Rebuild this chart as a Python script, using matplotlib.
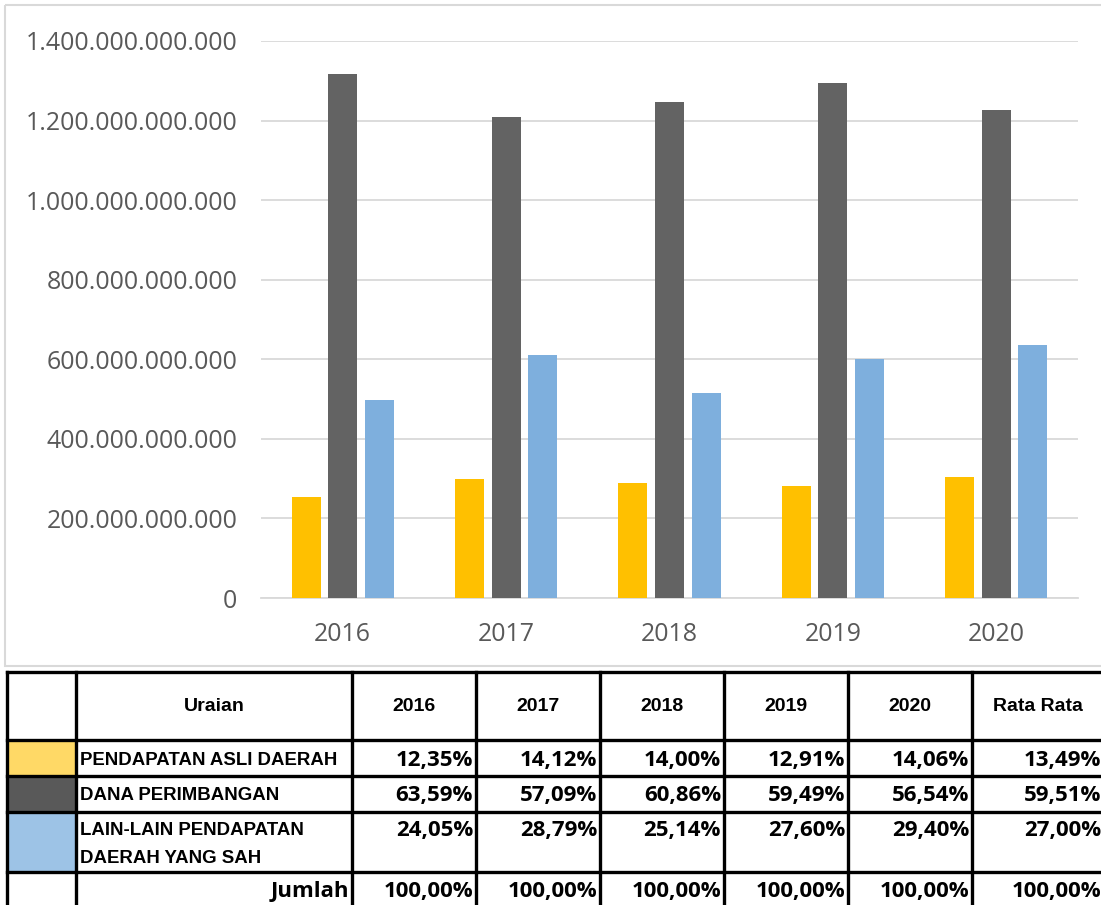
import numpy as np
import matplotlib.pyplot as plt
from matplotlib import font_manager
from matplotlib.patches import Rectangle

# data
years = ["2016", "2017", "2018", "2019", "2020"]
series = ["PENDAPATAN ASLI DAERAH", "DANA PERIMBANGAN", "LAIN-LAIN PENDAPATAN\nDAERAH YANG SAH"]
pad_vals = [253e9, 299e9, 289e9, 281e9, 304e9]
dana_vals = [1317e9, 1209e9, 1247e9, 1294e9, 1226e9]
lain_vals = [498e9, 611e9, 515e9, 601e9, 636e9]
bar_colors = ["#FFC000", "#636363", "#7EAFDD"]
swatch_colors = ["#FFD966", "#595959", "#9DC3E6"]

header = ["", "Uraian", "2016", "2017", "2018", "2019", "2020", "Rata Rata"]
pct_rows = [
    ["12,35%", "14,12%", "14,00%", "12,91%", "14,06%", "13,49%"],
    ["63,59%", "57,09%", "60,86%", "59,49%", "56,54%", "59,51%"],
    ["24,05%", "28,79%", "25,14%", "27,60%", "29,40%", "27,00%"],
]
total_row = ["100,00%"] * 6

W, H = 1101, 905
fig = plt.figure(figsize=(W / 100, H / 100), dpi=100)

# ---- bar chart ----
ax = fig.add_axes([261 / W, 1 - 598 / H, (1078 - 261) / W, (598 - 41) / H])
x = np.arange(len(years))
bw, off = 0.178, 0.224
for i, vals in enumerate([pad_vals, dana_vals, lain_vals]):
    ax.bar(x + (i - 1) * off, vals, bw, color=bar_colors[i], zorder=3)
ax.set_xlim(-0.5, len(years) - 0.5)
ax.set_ylim(0, 1.4e12)
yt = np.arange(0, 1.41e12, 2e11)
ax.set_yticks(yt)
ax.set_yticklabels(["{:,.0f}".format(v).replace(",", ".") for v in yt])
ax.set_xticks(x)
ax.set_xticklabels(years)
ax.grid(axis="y", color="#D9D9D9", linewidth=1.3, zorder=0)
for s in ["left", "right", "top"]:
    ax.spines[s].set_visible(False)
ax.spines["bottom"].set_color("#D9D9D9")
ax.spines["bottom"].set_linewidth(1.3)
ax.tick_params(axis="both", length=0, colors="#595959", labelsize=17.9)
ax.tick_params(axis="y", pad=17)
ax.tick_params(axis="x", pad=17)
for lab in ax.get_xticklabels() + ax.get_yticklabels():
    lab.set_fontfamily("Open Sans")

# ---- frame + table, drawn in pixel coords ----
tx = fig.add_axes([0, 0, 1, 1], zorder=-1)
tx.set_xlim(0, W)
tx.set_ylim(H, 0)
tx.axis("off")
tx2 = fig.add_axes([0, 0, 1, 1])
tx2.set_xlim(0, W)
tx2.set_ylim(H, 0)
tx2.axis("off")

tx.add_patch(Rectangle((5, 5), 1120, 661, fill=False, edgecolor="#D9D9D9", linewidth=1.5))

names = {f.name for f in font_manager.fontManager.ttflist}
if "Liberation Sans Narrow" in names:
    narrow, nsize = "Liberation Sans Narrow", 15.5
else:
    narrow, nsize = "Liberation Sans", 13.4
numfont, numsize = "Open Sans", 16

col_x = [7, 76, 352, 476, 600, 724, 848, 972, 1104]
row_y = [672, 740, 776, 812, 872, 912]

for i, c in enumerate(swatch_colors):
    tx2.add_patch(Rectangle((col_x[0], row_y[i + 1]), col_x[1] - col_x[0], row_y[i + 2] - row_y[i + 1],
                            facecolor=c, edgecolor="none"))

lw = 2.4
for xv in col_x:
    tx2.plot([xv, xv], [row_y[0], row_y[-1]], color="black", lw=lw, solid_capstyle="projecting")
for yv in row_y:
    tx2.plot([col_x[0], col_x[-1]], [yv, yv], color="black", lw=lw, solid_capstyle="projecting")

# header
for j, h in enumerate(header):
    if h:
        tx2.text((col_x[j] + col_x[j + 1]) / 2, 706, h, ha="center", va="center",
                 fontfamily=narrow, fontweight="bold", fontsize=nsize + 0.6, color="black")

# rows
row_text_y = [760, 795, 830]
for i, name in enumerate(series):
    lines = name.split("\n")
    for k, ln in enumerate(lines):
        tx2.text(80, row_text_y[i] + k * 28, ln, ha="left", va="center",
                 fontfamily=narrow, fontweight="bold", fontsize=nsize, color="black")
    for j, v in enumerate(pct_rows[i]):
        tx2.text(col_x[j + 3] - 3, row_text_y[i], v, ha="right", va="center",
                 fontfamily=numfont, fontweight="bold", fontsize=numsize, color="black")

tx2.text(col_x[2] - 3, 891, "Jumlah", ha="right", va="center",
         fontfamily=numfont, fontweight="bold", fontsize=numsize, color="black")
for j, v in enumerate(total_row):
    tx2.text(col_x[j + 3] - 3, 891, v, ha="right", va="center",
             fontfamily=numfont, fontweight="bold", fontsize=numsize, color="black")

fig.savefig("out.png", dpi=100)
